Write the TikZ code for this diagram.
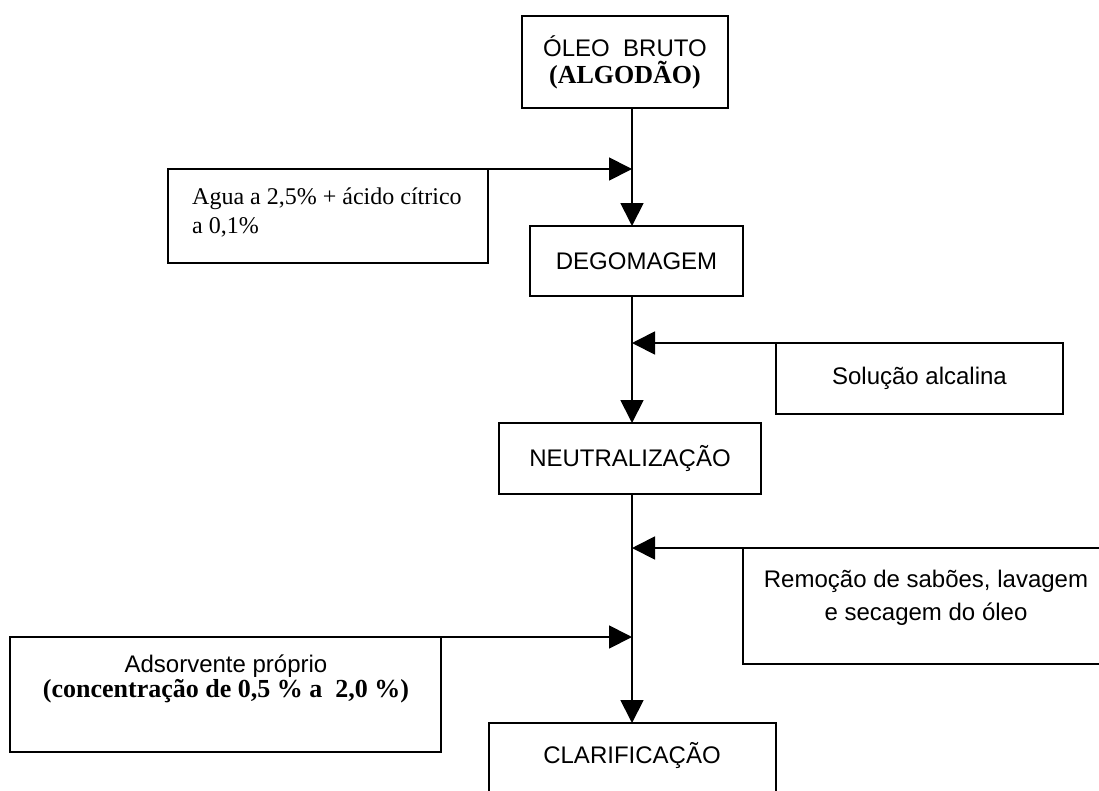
\documentclass[tikz,border=0pt]{standalone}
\usepackage{fontspec}
\setmainfont{Liberation Serif}
\setsansfont{Liberation Sans}
\usetikzlibrary{arrows.meta}
\tikzstyle{caixa}=[draw=black, line width=1.8pt, inner sep=0pt, outer sep=0pt, anchor=north west]
\tikzstyle{seta}=[line width=1.8pt, -{Triangle[length=23pt,width=23pt]}]
\newcommand*{\fonteetapa}{\sffamily\fontsize{24}{27}\selectfont}
\newcommand*{\fonteinsumo}{\rmfamily\fontsize{24}{29}\selectfont}
\newcommand*{\fontenegrito}{\rmfamily\bfseries\fontsize{26}{27}\selectfont}

\begin{document}
\begin{tikzpicture}[x=1pt,y=-1pt]
	\useasboundingbox (0,0) rectangle (1099,790);
	\clip (0,0) rectangle (1099,790);
	\fill[white] (0,0) rectangle (1099,790);
	% etapas
	\node[caixa, minimum width=206pt, minimum height=92pt, align=center, font=\fonteetapa] (oleo) at (522,16)
	{ÓLEO~~BRUTO\\{\fontenegrito (ALGODÃO)}};
	\node[caixa, minimum width=213pt, minimum height=70pt, font=\fonteetapa] (degom) at (530,226) {DEGOMAGEM};
	\node[caixa, minimum width=262pt, minimum height=71pt, font=\fonteetapa] (neutra) at (499,423) {NEUTRALIZAÇÃO};
	\node[caixa, minimum width=287pt, minimum height=80pt] (clarif) at (489,723) {};
	\node[font=\fonteetapa, inner sep=0pt] (clarif-txt) at (632,755) {CLARIFICAÇÃO};
	% insumos
	\node[caixa, minimum width=320pt, minimum height=94pt] (agua) at (168,169) {};
	\node[anchor=north west, inner sep=0pt, align=left, font=\fonteinsumo] (agua-txt) at (192,188)
	{Agua a 2,5\% + ácido cítrico\\a 0,1\%};
	\node[caixa, minimum width=287pt, minimum height=71pt, font=\fonteetapa] (solucao) at (776,343) {Solução alcalina};
	\node[caixa, minimum width=367pt, minimum height=116pt] (remocao) at (743,548) {};
	\node[anchor=north, inner sep=0pt, align=center, font=\sffamily\fontsize{24}{33}\selectfont] (remocao-txt) at (926,570)
	{Remoção de sabões, lavagem\\e secagem do óleo};
	\node[caixa, minimum width=431pt, minimum height=115pt] (adsorv) at (10,637) {};
	\node[anchor=north, inner sep=0pt, align=center, font=\sffamily\fontsize{24}{25}\selectfont] (adsorv-txt) at (226,655)
	{Adsorvente próprio\\{\fontenegrito (concentração de 0,5 \% a~~2,0 \%)}};
	% fluxo
	\coordinate (eixo) at (632,0);
	\draw[seta] (oleo.south -| eixo) -- (degom.north -| eixo);
	\draw[seta] (degom.south -| eixo) -- (neutra.north -| eixo);
	\draw[seta] (neutra.south -| eixo) -- (clarif.north -| eixo);
	\draw[seta] (agua.north east) -- (agua.north east -| eixo);
	\draw[seta] (solucao.north west) -- (solucao.north west -| eixo);
	\draw[seta] (remocao.north west) -- (remocao.north west -| eixo);
	\draw[seta] (adsorv.north east) -- (adsorv.north east -| eixo);
\end{tikzpicture}
\end{document}
